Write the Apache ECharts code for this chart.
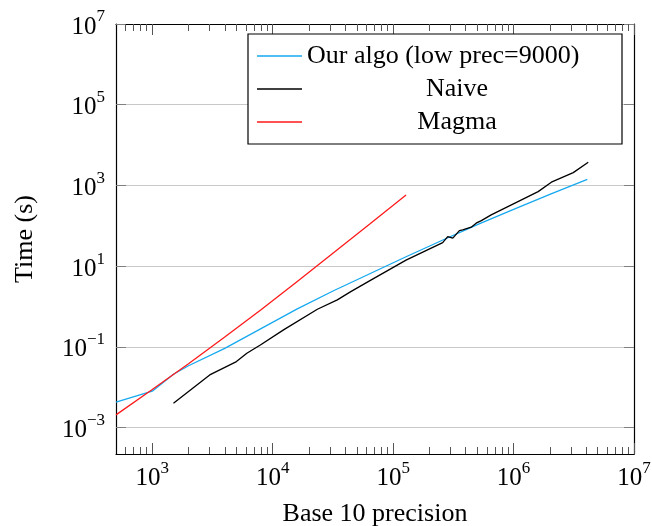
<!DOCTYPE html>
<html><head><meta charset="utf-8">
<script src="https://cdn.jsdelivr.net/npm/echarts@6/dist/echarts.min.js"></script>
<style>html,body{margin:0;padding:0;background:#fff}#c{width:652px;height:526px}</style>
</head><body><div id="c"></div>
<script>
// ---- data ----
const xMin = 500, xMax = 1e7, yMin = 2.2e-4, yMax = 1e7;

const algoName = 'Our algo (low prec=9000)';
const algoX = [500, 1000, 1500, 2000, 4000, 8000, 16000, 32000, 64000, 128000, 256000, 512000, 1024000, 2048000, 4096000];
const algoY = [0.00427, 0.00794, 0.0209, 0.0339, 0.0912, 0.282, 0.871, 2.45, 6.46, 17.0, 43.7, 110, 263, 617, 1413];

const naiveName = 'Naive';
const naiveX = [1500, 3000, 5000, 6100, 7900, 12300, 23500, 34400, 44500, 65300, 128000, 258000, 284000, 313000, 355000, 378000, 445000, 489000, 540000, 652000, 1600000, 2060000, 3130000, 4170000];
const naiveY = [0.0040, 0.0201, 0.043, 0.069, 0.111, 0.262, 0.85, 1.45, 2.33, 4.5, 14.1, 38.3, 53.8, 49.2, 75.9, 78.9, 92, 116, 134, 186, 701, 1200, 2075, 3760];

const magmaName = 'Magma';
const magmaX = [500, 1000, 2000, 4000, 8000, 16000, 32000, 64000, 128000];
const magmaY = [0.00205, 0.0087, 0.038, 0.174, 0.83, 4.17, 21.4, 110, 575];

const xMajorTicks = [1e3, 1e4, 1e5, 1e6, 1e7];
const xMinorTicks = [600, 700, 800, 900,
  2e3, 3e3, 4e3, 5e3, 6e3, 7e3, 8e3, 9e3,
  2e4, 3e4, 4e4, 5e4, 6e4, 7e4, 8e4, 9e4,
  2e5, 3e5, 4e5, 5e5, 6e5, 7e5, 8e5, 9e5,
  2e6, 3e6, 4e6, 5e6, 6e6, 7e6, 8e6, 9e6];
const yMajorTicks = [1e-3, 1e-1, 1e1, 1e3, 1e5, 1e7];

// ---- styling ----
const F = "'Liberation Serif', 'DejaVu Serif', serif";
const pairs = (xs, ys) => xs.map((x, i) => [x, ys[i]]);
function powLabel(v) {
  const e = Math.round(Math.log10(v));
  return '{b|10}{s|' + (e < 0 ? '\u2212' + (-e) : e) + '}';
}
const labelRich = {
  b: { fontSize: 25, fontFamily: F, color: '#000', verticalAlign: 'bottom', lineHeight: 31 },
  s: { fontSize: 17, fontFamily: F, color: '#000', verticalAlign: 'top', lineHeight: 17 }
};
const gridBox = { left: 116, right: 18, top: 24, bottom: 72, containLabel: false, outerBoundsMode: 'none' };
const axisLineStyle = { color: '#000', width: 1.2 };

const chart = echarts.init(document.getElementById('c'), null, { renderer: 'canvas' });
chart.setOption({
  animation: false,
  backgroundColor: '#fff',
  grid: [Object.assign({}, gridBox), Object.assign({}, gridBox)],
  legend: {
    data: [algoName, naiveName, magmaName],
    orient: 'vertical', left: 248, top: 34,
    padding: [9, 15, 9, 9],
    borderColor: '#000', borderWidth: 1.2, backgroundColor: '#fff', borderRadius: 0,
    itemWidth: 45, itemHeight: 1.5, itemGap: 7, icon: 'rect',
    formatter: name => (name === algoName ? '{l|' + name + '}' : '{c|' + name + '}'),
    textStyle: {
      rich: {
        l: { width: 300, align: 'left', fontSize: 26, fontFamily: F, lineHeight: 26, color: '#000' },
        c: { width: 300, align: 'center', fontSize: 26, fontFamily: F, lineHeight: 26, color: '#000' }
      }
    },
    z: 10
  },
  xAxis: [
    {
      gridIndex: 0, type: 'log', position: 'bottom', min: xMin, max: xMax,
      name: 'Base 10 precision', nameLocation: 'middle', nameGap: 47,
      nameTextStyle: { fontSize: 26, fontFamily: F, color: '#000' },
      axisLine: { show: true, lineStyle: axisLineStyle },
      axisTick: { show: true, inside: true, length: 11, customValues: xMajorTicks, lineStyle: { color: '#555', width: 1 } },
      axisLabel: { show: true, customValues: xMajorTicks, margin: 6, formatter: powLabel, rich: labelRich },
      splitLine: { show: false }
    },
    {
      gridIndex: 0, type: 'log', position: 'top', min: xMin, max: xMax,
      axisLine: { show: true, lineStyle: axisLineStyle },
      axisTick: { show: true, inside: true, length: 11, customValues: xMajorTicks, lineStyle: { color: '#555', width: 1 } },
      axisLabel: { show: false },
      splitLine: { show: false }
    },
    {
      gridIndex: 1, type: 'log', position: 'bottom', min: xMin, max: xMax,
      axisLine: { show: false },
      axisTick: { show: true, inside: true, length: 7, customValues: xMinorTicks, lineStyle: { color: '#555', width: 1 } },
      axisLabel: { show: false },
      splitLine: { show: false }
    },
    {
      gridIndex: 1, type: 'log', position: 'top', min: xMin, max: xMax,
      axisLine: { show: false },
      axisTick: { show: true, inside: true, length: 7, customValues: xMinorTicks, lineStyle: { color: '#555', width: 1 } },
      axisLabel: { show: false },
      splitLine: { show: false }
    }
  ],
  yAxis: [
    {
      gridIndex: 0, type: 'log', position: 'left', min: yMin, max: yMax,
      name: 'Time (s)', nameLocation: 'middle', nameGap: 78,
      nameTextStyle: { fontSize: 26, fontFamily: F, color: '#000' },
      axisLine: { show: true, lineStyle: axisLineStyle },
      axisTick: { show: true, inside: true, length: 10, customValues: yMajorTicks, lineStyle: { color: '#808080', width: 1 } },
      axisLabel: { show: true, customValues: yMajorTicks, margin: 11, formatter: powLabel, rich: labelRich },
      splitLine: { show: true, lineStyle: { color: '#c8c8c8', width: 1 } }
    },
    {
      gridIndex: 0, type: 'log', position: 'right', min: yMin, max: yMax,
      axisLine: { show: true, lineStyle: axisLineStyle },
      axisTick: { show: true, inside: true, length: 10, customValues: yMajorTicks, lineStyle: { color: '#808080', width: 1 } },
      axisLabel: { show: false },
      splitLine: { show: false }
    },
    { gridIndex: 1, type: 'value', show: false }
  ],
  series: [
    {
      name: algoName, type: 'line', xAxisIndex: 0, yAxisIndex: 0,
      data: pairs(algoX, algoY), symbol: 'none', smooth: false,
      lineStyle: { color: '#16a9ef', width: 1.3 }, itemStyle: { color: '#16a9ef' }
    },
    {
      name: naiveName, type: 'line', xAxisIndex: 0, yAxisIndex: 0,
      data: pairs(naiveX, naiveY), symbol: 'none', smooth: false,
      lineStyle: { color: '#000', width: 1.3 }, itemStyle: { color: '#000' }
    },
    {
      name: magmaName, type: 'line', xAxisIndex: 0, yAxisIndex: 0,
      data: pairs(magmaX, magmaY), symbol: 'none', smooth: false,
      lineStyle: { color: '#ff1a1a', width: 1.3 }, itemStyle: { color: '#ff1a1a' }
    }
  ]
});
</script>
</body></html>
